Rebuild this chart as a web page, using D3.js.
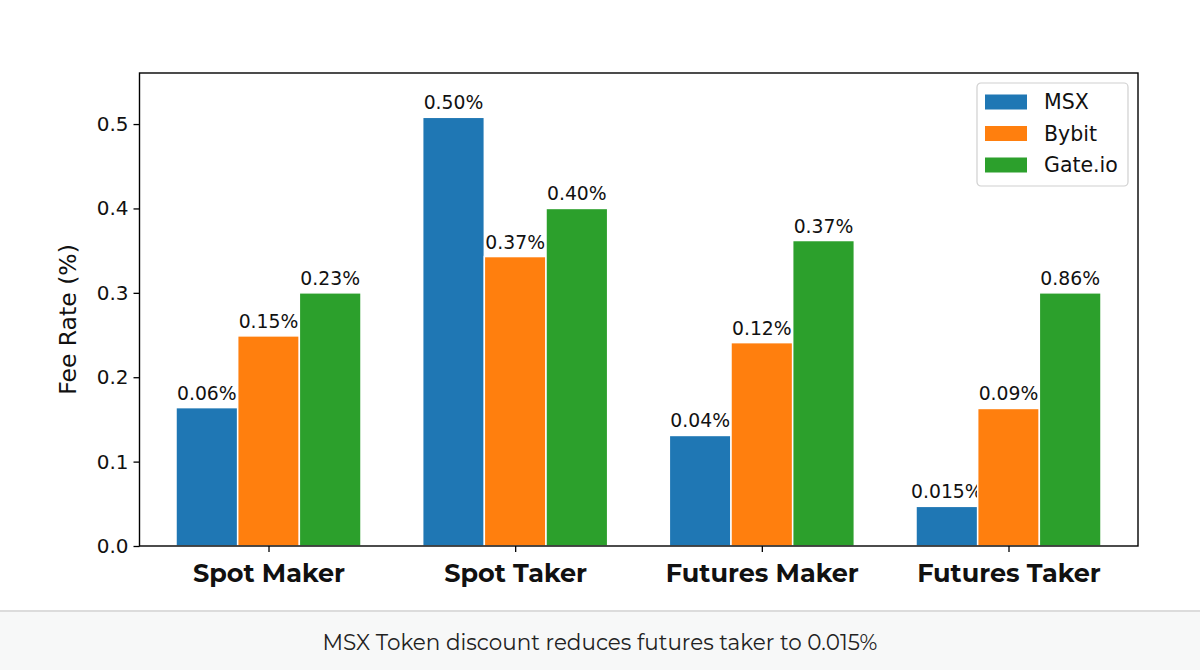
<!DOCTYPE html>
<html>
<head>
<meta charset="utf-8">
<script src="https://cdn.jsdelivr.net/npm/d3@7/dist/d3.min.js"></script>
<style>
  html, body { margin: 0; padding: 0; background: #fff; }
  svg { display: block; }
</style>
</head>
<body>
<svg id="chart" width="1200" height="670"></svg>
<script>
const categories = ["Spot Maker", "Spot Taker", "Futures Maker", "Futures Taker"];
const seriesNames = ["MSX", "Bybit", "Gate.io"];
const msxValues = [0.164, 0.508, 0.131, 0.047];
const bybitValues = [0.249, 0.343, 0.241, 0.163];
const gateValues = [0.300, 0.400, 0.362, 0.300];
const msxLabels = ["0.06%", "0.50%", "0.04%", "0.015%"];
const bybitLabels = ["0.15%", "0.37%", "0.12%", "0.09%"];
const gateLabels = ["0.23%", "0.40%", "0.37%", "0.86%"];
const yTicks = [0.0, 0.1, 0.2, 0.3, 0.4, 0.5];
const caption = "MSX Token discount reduces futures taker to 0.015%";
const colors = ["#1f77b4", "#ff7f0e", "#2ca02c"];

const series = [
  { name: seriesNames[0], values: msxValues, labels: msxLabels, color: colors[0] },
  { name: seriesNames[1], values: bybitValues, labels: bybitLabels, color: colors[1] },
  { name: seriesNames[2], values: gateValues, labels: gateLabels, color: colors[2] }
];

const svg = d3.select("#chart");
const L = 139.5, R = 1138, T = 73, B = 546;
const barW = 0.25;

const x = d3.scaleLinear().domain([-0.523, 3.525]).range([L, R]);
const y = d3.scaleLinear().domain([0, 0.5605]).range([B, T]);

// bars
series.forEach((s, si) => {
  const off = (si - 1) * barW;
  svg.append("g").selectAll("rect").data(s.values).join("rect")
    .attr("x", (d, i) => x(i + off - barW / 2))
    .attr("width", x(barW) - x(0))
    .attr("y", d => y(d))
    .attr("height", d => y(0) - y(d))
    .attr("fill", s.color)
    .attr("stroke", "#fff")
    .attr("stroke-width", 1.5);
  svg.append("g").selectAll("text").data(s.values).join("text")
    .attr("x", (d, i) => x(i + off))
    .attr("y", d => y(d) - 8)
    .attr("text-anchor", "middle")
    .attr("font-family", "DejaVu Sans, sans-serif")
    .attr("font-size", 18.8)
    .attr("fill", "#111")
    .text((d, i) => s.labels[i]);
});

// y axis
const yAxis = d3.axisLeft(y).tickValues(yTicks).tickFormat(d3.format(".1f")).tickSize(6).tickPadding(5);
const gy = svg.append("g").attr("transform", `translate(${L},0)`).call(yAxis);
gy.select(".domain").remove();
gy.selectAll("line").attr("stroke", "#000").attr("stroke-width", 1.3);
gy.selectAll("text").attr("font-family", "DejaVu Sans, sans-serif").attr("font-size", 20).attr("fill", "#111");

// x axis
const xAxis = d3.axisBottom(x).tickValues(d3.range(categories.length)).tickFormat(i => categories[i]).tickSize(6).tickPadding(8);
const gx = svg.append("g").attr("transform", `translate(0,${B})`).call(xAxis);
gx.select(".domain").remove();
gx.selectAll("line").attr("stroke", "#000").attr("stroke-width", 1.3);
gx.selectAll("text").attr("font-family", "Montserrat, 'Open Sans', sans-serif").attr("font-weight", 700)
  .attr("font-size", 25.5).attr("fill", "#111").attr("dy", "0.85em");

// frame
svg.append("rect").attr("x", L).attr("y", T).attr("width", R - L).attr("height", B - T)
  .attr("fill", "none").attr("stroke", "#000").attr("stroke-width", 1.4);

// y label
svg.append("text")
  .attr("transform", `translate(76,${(T + B) / 2 + 10}) rotate(-90)`)
  .attr("text-anchor", "middle")
  .attr("font-family", "DejaVu Sans, sans-serif")
  .attr("font-size", 23.5)
  .attr("fill", "#111")
  .text("Fee Rate (%)");

// legend
const lg = svg.append("g").attr("transform", "translate(977,83)");
lg.append("rect").attr("width", 151).attr("height", 103).attr("rx", 4)
  .attr("fill", "#fff").attr("fill-opacity", 0.8).attr("stroke", "#d0d0d0").attr("stroke-width", 1.2);
series.forEach((s, i) => {
  const row = lg.append("g").attr("transform", `translate(0,${19 + i * 31.5})`);
  row.append("rect").attr("x", 8).attr("y", -7.5).attr("width", 42).attr("height", 15).attr("fill", s.color);
  row.append("text").attr("x", 67).attr("y", 0).attr("dy", "0.36em")
    .attr("font-family", "DejaVu Sans, sans-serif").attr("font-size", 20.5).attr("fill", "#111").text(s.name);
});

// caption panel
svg.append("rect").attr("x", 0).attr("y", 611).attr("width", 1200).attr("height", 59).attr("fill", "#f7f8f8");
svg.append("line").attr("x1", 0).attr("x2", 1200).attr("y1", 611).attr("y2", 611).attr("stroke", "#dcdcdc").attr("stroke-width", 2);
svg.append("text").attr("x", 600).attr("y", 642).attr("dy", "0.35em").attr("text-anchor", "middle")
  .attr("font-family", "Montserrat, 'Open Sans', sans-serif").attr("font-size", 21.5).attr("fill", "#222")
  .text(caption);
</script>
</body>
</html>
